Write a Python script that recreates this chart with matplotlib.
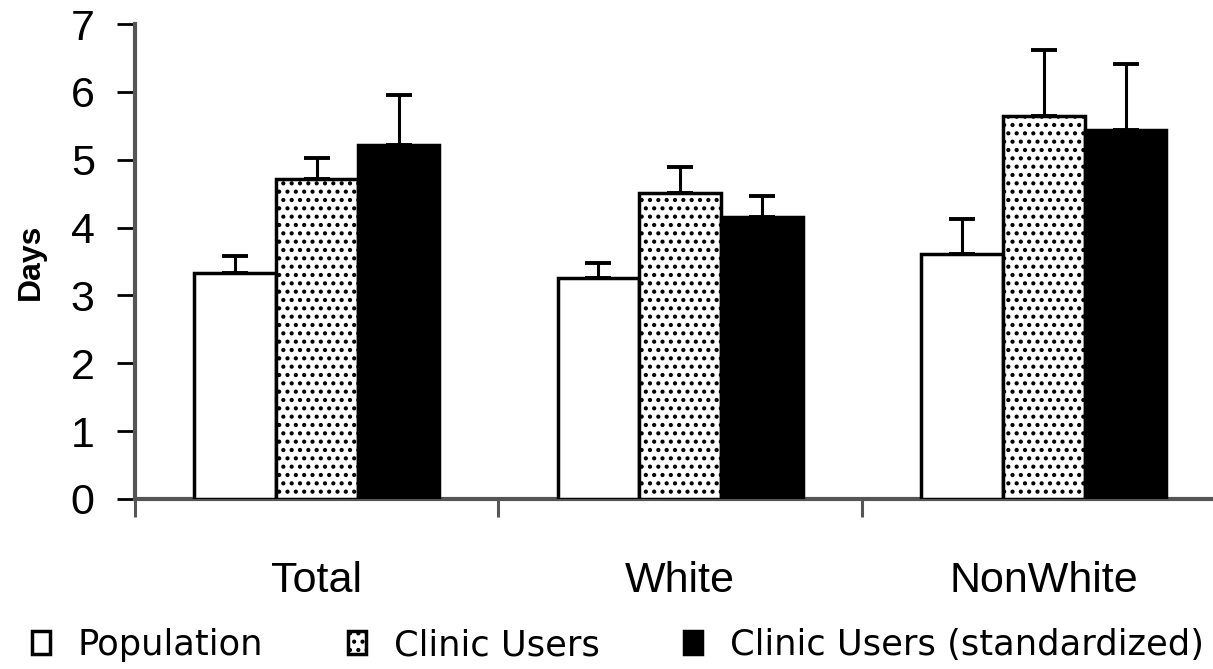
import numpy as np
import matplotlib.pyplot as plt
from matplotlib.ticker import FixedLocator, NullFormatter

plt.rcParams["font.family"] = ["Liberation Sans", "DejaVu Sans"]
plt.rcParams["hatch.linewidth"] = 1.8

# ---------------------------------------------------------------------------#
# DATA
# ---------------------------------------------------------------------------#
categories = ["Total", "White", "NonWhite"]
series_names = ["Population", "Clinic Users", "Clinic Users (standardized)"]

population = [3.33, 3.25, 3.61]
clinic_users = [4.71, 4.51, 5.65]
clinic_std = [5.21, 4.15, 5.44]

# upper error bar lengths only
population_err = [0.25, 0.23, 0.52]
clinic_users_err = [0.32, 0.38, 0.96]
clinic_std_err = [0.75, 0.32, 0.97]

# ---------------------------------------------------------------------------#
# FIGURE
# ---------------------------------------------------------------------------#
W, H = 1213, 669
fig = plt.figure(figsize=(W / 100, H / 100), dpi=100)
ax = fig.add_axes([135 / W, (H - 499) / H, (W - 135) / W, (499 - 24) / H])

centers = np.arange(len(categories)) + 0.5
width = 0.225
err_kw = dict(elinewidth=2.2, capthick=2.8, ecolor="black")

styles = [
    dict(color="white", hatch=None),
    dict(color="white", hatch=".."),
    dict(color="black", hatch=None),
]
values = [population, clinic_users, clinic_std]
errors = [population_err, clinic_users_err, clinic_std_err]

handles = []
for i, (vals, errs, st) in enumerate(zip(values, errors, styles)):
    yerr = [np.zeros(len(errs)), errs]
    bars = ax.bar(
        centers + (i - 1) * width,
        vals,
        width,
        color=st["color"],
        edgecolor="black",
        hatch=st["hatch"],
        linewidth=2.5,
        yerr=yerr,
        capsize=9.5,
        error_kw=err_kw,
        label=series_names[i],
        zorder=3,
    )
    handles.append(bars)

ax.set_ylim(0, 7)
ax.set_xlim(0, (W - 135) / 363.5)

for side in ["top", "right"]:
    ax.spines[side].set_visible(False)
for side in ["left", "bottom"]:
    ax.spines[side].set_linewidth(3)
    ax.spines[side].set_color("#555555")

ax.set_yticks(range(8))
ax.tick_params(axis="y", length=13, width=2, color="black", pad=16, labelsize=31)

# category boundaries as major ticks, names on minor ticks
ax.xaxis.set_major_locator(FixedLocator([0, 1, 2, 3]))
ax.xaxis.set_major_formatter(NullFormatter())
ax.xaxis.set_minor_locator(FixedLocator(centers))
ax.set_xticklabels(categories, minor=True)
ax.tick_params(axis="x", which="major", length=13, width=2.2, color="#555555")
ax.tick_params(axis="x", which="minor", length=0, pad=45, labelsize=31)

fig.text(31 / W, (H - 262) / H, "Days", rotation=90, fontsize=23,
         fontweight="bold", ha="center", va="center")

fig.legend(
    handles,
    series_names,
    ncol=3,
    loc="center left",
    bbox_to_anchor=(32 / W, (H - 645) / H),
    frameon=False,
    prop=dict(family="DejaVu Sans", size=25.4),
    handlelength=0.5,
    handleheight=0.6,
    handletextpad=0.8,
    columnspacing=2.4,
    borderpad=0,
    borderaxespad=0,
)

fig.savefig("out.png", dpi=100)
